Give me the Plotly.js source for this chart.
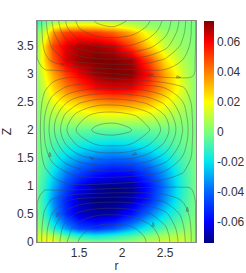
<!DOCTYPE html>
<html><head><meta charset="utf-8">
<script src="https://cdn.plot.ly/plotly-3.0.1.min.js"></script>
<style>html,body{margin:0;padding:0;background:#fff}#c{width:246px;height:273px}</style>
</head><body><div id="c"></div>
<script>
const r=[1.01,1.1,1.2,1.35,1.5,1.7,1.9,2.1,2.3,2.5,2.7,2.8,2.86];
const Z=[0,.1,.25,.5,.75,1,1.25,1.5,1.75,2,2.25,2.5,2.75,3,3.25,3.5,3.75,3.85,3.95];
const heat=[
[.01,.02,.018,.008,.003,0,.001,.004,.01,.013,.013,.008,.002],
[.012,.014,.009,-.004,-.012,-.016,-.012,-.006,.001,.007,.009,.006,.002],
[.004,-.002,-.014,-.032,-.046,-.05,-.044,-.03,-.016,-.006,0,.003,.001],
[-.002,-.012,-.03,-.052,-.065,-.07,-.068,-.056,-.038,-.02,-.008,-.002,-.001],
[-.003,-.016,-.034,-.054,-.067,-.074,-.074,-.069,-.054,-.032,-.012,-.004,-.001],
[-.003,-.014,-.028,-.046,-.06,-.07,-.073,-.071,-.057,-.036,-.014,-.005,-.001],
[-.002,-.01,-.021,-.036,-.046,-.055,-.059,-.057,-.046,-.03,-.012,-.004,-.001],
[-.001,-.006,-.014,-.024,-.031,-.037,-.04,-.038,-.031,-.02,-.008,-.003,0],
[0,-.003,-.008,-.012,-.016,-.02,-.022,-.02,-.016,-.01,-.004,-.001,0],
[0,-.001,-.002,-.003,-.004,-.005,-.005,-.005,-.004,-.003,-.001,0,0],
[.001,.004,.007,.01,.012,.015,.016,.015,.013,.009,.004,.002,0],
[.002,.009,.016,.024,.029,.036,.04,.038,.032,.021,.01,.004,.001],
[.003,.014,.026,.04,.05,.06,.064,.062,.05,.032,.015,.006,.001],
[.004,.02,.034,.051,.062,.071,.074,.073,.059,.034,.013,.005,.001],
[.005,.028,.046,.064,.071,.074,.074,.07,.05,.024,.008,.003,.001],
[.005,.028,.05,.063,.069,.07,.066,.05,.028,.011,.004,.002,.0005],
[.002,.013,.036,.05,.052,.05,.044,.032,.016,.005,.002,.001,0],
[-.004,.004,.02,.028,.03,.029,.024,.015,.006,.002,.001,0,0],
[-.012,-.004,.004,.006,.008,.008,.006,.004,.001,0,0,0,0]];
const psi=[
[0,-.21,-.38,-.6,-.74,-.83,-.85,-.82,-.72,-.56,-.31,-.14,0],
[0,-.21,-.37,-.58,-.72,-.81,-.83,-.8,-.71,-.55,-.3,-.14,0],
[0,-.2,-.35,-.55,-.68,-.76,-.78,-.75,-.66,-.51,-.28,-.13,0],
[0,-.15,-.27,-.42,-.52,-.59,-.6,-.58,-.51,-.4,-.22,-.1,0],
[0,-.08,-.15,-.23,-.29,-.32,-.33,-.32,-.28,-.22,-.12,-.06,0],
[0,.02,.05,.08,.09,.08,.06,.04,.02,.01,0,0,0],
[0,.08,.15,.23,.29,.32,.33,.32,.28,.22,.12,.06,0],
[0,.16,.28,.43,.54,.61,.62,.6,.53,.41,.22,.11,0],
[0,.22,.39,.6,.75,.84,.86,.83,.73,.57,.31,.15,0],
[0,.25,.45,.7,.87,.98,1,.96,.85,.66,.36,.17,0],
[0,.23,.41,.63,.78,.88,.9,.86,.77,.59,.32,.15,0],
[0,.17,.3,.46,.57,.65,.66,.63,.56,.44,.24,.11,0],
[0,.09,.16,.25,.3,.34,.35,.33,.3,.23,.13,.06,0],
[0,.03,.05,.06,.05,.03,0,-.03,-.06,-.08,-.06,-.03,0],
[0,-.09,-.16,-.25,-.3,-.34,-.35,-.34,-.3,-.23,-.13,-.06,0],
[0,-.16,-.28,-.43,-.54,-.61,-.62,-.6,-.53,-.41,-.22,-.11,0],
[0,-.2,-.36,-.56,-.7,-.78,-.8,-.77,-.68,-.53,-.29,-.14,0],
[0,-.21,-.38,-.6,-.74,-.83,-.85,-.82,-.72,-.56,-.31,-.14,0],
[0,-.22,-.4,-.62,-.77,-.86,-.88,-.84,-.75,-.58,-.32,-.15,0]];
const arrowR=[2.36,2.68,1.16,1.62,1.24,2.36,2.76,1.28,2.12];
const arrowZ=[2.99,2.94,1.6,1.52,.45,.35,.62,3.2,1.56];
const arrowAngle=[90,100,0,300,200,0,0,300,250];
const rTicks=[1.5,2,2.5];
const zTicks=[0,.5,1,1.5,2,2.5,3,3.5];
const cbVals=[-.06,-.04,-.02,0,.02,.04,.06];
const cbText=['-0.06','-0.04','-0.02','0','0.02','0.04','0.06'];
const cs=[[0,'#00007f'],[.095,'#0000ff'],[.23,'#0064ff'],[.365,'#00e6f0'],[.5,'#7dff7d'],[.635,'#ffff00'],[.77,'#ff8000'],[.905,'#ff0000'],[1,'#7f0000']];
const tf={family:'Liberation Sans, Arial, sans-serif',size:12,color:'#333'};
Plotly.newPlot('c',[
{type:'heatmap',x:r,y:Z,z:heat,zsmooth:'best',zmin:-.074,zmax:.074,colorscale:cs,
 colorbar:{thickness:10,thicknessmode:'pixels',len:222,lenmode:'pixels',xref:'container',x:.829,xanchor:'left',xpad:0,ypad:0,yref:'container',y:.906,yanchor:'top',
 tickvals:cbVals,ticktext:cbText,ticks:'',tickfont:tf,outlinewidth:0}},
{type:'contour',x:r,y:Z,z:psi,showscale:false,autocontour:false,contours:{coloring:'none',start:-.97,end:.95,size:.12},
 line:{color:'rgba(70,70,70,.6)',width:.7,smoothing:1},hoverinfo:'skip'},
{type:'scatter',mode:'markers',x:arrowR,y:arrowZ,marker:{symbol:'arrow-open',size:4,angle:arrowAngle,color:'rgba(70,70,70,.7)',line:{width:.7,color:'rgba(70,70,70,.7)'}},hoverinfo:'skip',showlegend:false}
],{
 width:246,height:273,margin:{l:37,r:50,t:21,b:31,pad:0},paper_bgcolor:'#fff',plot_bgcolor:'#fff',showlegend:false,
 xaxis:{range:[1.01,2.86],tickvals:rTicks,ticktext:['1.5','2','2.5'],ticks:'',tickfont:tf,showgrid:false,zeroline:false,showline:true,mirror:true,linecolor:'#888',linewidth:1,
   title:{text:'r',font:tf,standoff:2}},
 yaxis:{range:[0,3.95],tickvals:zTicks,ticktext:['0','0.5','1','1.5','2','2.5','3','3.5'],ticks:'',tickfont:tf,showgrid:false,zeroline:false,showline:true,mirror:true,linecolor:'#888',linewidth:1,
   title:{text:'Z',font:tf,standoff:2}}
},{displayModeBar:false,staticPlot:true});
</script></body></html>
